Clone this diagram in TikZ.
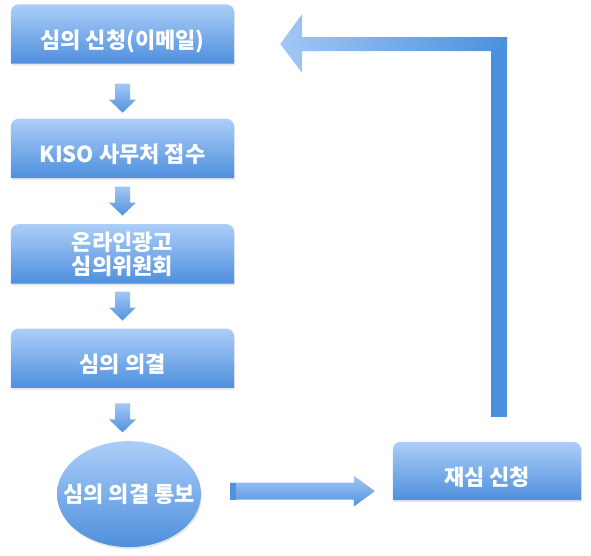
\documentclass[tikz,border=0pt]{standalone}
\usepackage{fontspec}
\newfontfamily\krfont{Noto Sans CJK KR}
\usetikzlibrary{shapes.geometric,positioning,calc,backgrounds,shadows}

\definecolor{boxtop}{RGB}{172,206,248}
\definecolor{boxbot}{RGB}{78,143,221}
\definecolor{arrowtop}{RGB}{162,199,245}
\definecolor{arrowbot}{RGB}{82,146,222}
\definecolor{backbar}{RGB}{74,144,220}

\tikzset{
  stagetext/.style={text=white,align=center,font=\krfont\bfseries\fontsize{22}{24}\selectfont},
  stage/.style={stagetext,minimum width=223pt,minimum height=59pt,inner sep=0pt},
  oneline/.style={text height=31pt,text depth=2.5pt},
  boxshade/.style={top color=boxtop,bottom color=boxbot,drop shadow={opacity=.18,shadow xshift=1pt,shadow yshift=-2pt}},
  arrowshade/.style={top color=arrowtop,bottom color=arrowbot},
}

% box with rounded top corners
\newcommand{\stagebg}[1]{%
  \shade[boxshade] (#1.south west) -- ([yshift=-8pt]#1.north west)
    arc[start angle=180,end angle=90,radius=8pt] -- ([xshift=-8pt]#1.north east)
    arc[start angle=90,end angle=0,radius=8pt] -- (#1.south east) -- cycle;}

% block arrow downwards, between two nodes
\newcommand{\flowdown}[3][0]{%
  \shade[arrowshade] let \p1=(#2.south), \p3=($(#2.south)!.5!(#3.north)+(0,#1)$) in
    (\x1-7.5pt,\y3+14.5pt) -- (\x1+7.5pt,\y3+14.5pt) -- (\x1+7.5pt,\y3-1.5pt)
    -- (\x1+13.5pt,\y3-1.5pt) -- (\x1,\y3-14.5pt) -- (\x1-13.5pt,\y3-1.5pt)
    -- (\x1-7.5pt,\y3-1.5pt) -- cycle;}

% block arrow to the right
\newcommand{\flowright}[2]{%
  \shade[arrowshade] let \p1=(#1.east), \p2=(#2.west) in
    (\x1+29pt,\y1+11.5pt) -- (\x2-39pt,\y1+11.5pt) -- (\x2-39pt,\y1+18.5pt)
    -- (\x2-18pt,\y1+3pt) -- (\x2-39pt,\y1-12.5pt) -- (\x2-39pt,\y1-5.5pt)
    -- (\x1+29pt,\y1-5.5pt) -- cycle;
  \fill[arrowbot] let \p1=(#1.east) in (\x1+29pt,\y1+11.5pt) rectangle (\x1+35pt,\y1-5.5pt);}

% bent arrow back up to the first box
\newcommand{\flowback}[2]{%
  \fill[backbar] let \p1=(#1.north), \p2=(#2.east) in
    (\x1+4pt,\y1+25pt) rectangle (\x1+20pt,\y2-3pt);
  \shade[left color=arrowtop,right color=backbar] let \p1=(#1.north), \p2=(#2.east) in
    (\x1+20pt,\y2-3pt) -- (\x2+68pt,\y2-3pt) -- (\x2+68pt,\y2+20pt)
    -- (\x2+46pt,\y2-10pt) -- (\x2+68pt,\y2-39pt) -- (\x2+68pt,\y2-17pt)
    -- (\x1+20pt,\y2-17pt) -- cycle;}

\begin{document}
\begin{tikzpicture}[x=1pt,y=1pt]
  \useasboundingbox (0,0) rectangle (591,-555);

  \node[stage,oneline] (apply) at (122.5,-34) {심의 신청(이메일)};
  \node[stage,oneline] [below=55pt of apply] (receive) {KISO 사무처 접수};
  \node[stage] [below=46pt of receive] (committee) {온라인광고\\심의위원회};
  \node[stage,oneline] [below=45pt of committee] (decide) {심의 의결};
  \node[ellipse,minimum width=144pt,minimum height=106pt,inner sep=0pt,
        top color=boxtop,bottom color=boxbot,
        drop shadow={opacity=.18,shadow xshift=1pt,shadow yshift=-2pt},
        label={[stagetext]center:심의 의결 통보}]
        [below=53pt of decide,xshift=6.5pt] (notify) {};
  \node[stage,oneline,minimum width=188pt,minimum height=58pt] (retry) at (487,-471) {재심 신청};

  \begin{scope}[on background layer]
    \stagebg{apply}
    \stagebg{receive}
    \stagebg{committee}
    \stagebg{decide}
    \stagebg{retry}
  \end{scope}

  \flowdown[-7]{apply}{receive}
  \flowdown{receive}{committee}
  \flowdown{committee}{decide}
  \flowdown[-3.5]{decide}{notify}
  \flowright{notify}{retry}
  \flowback{retry}{apply}
\end{tikzpicture}
\end{document}
